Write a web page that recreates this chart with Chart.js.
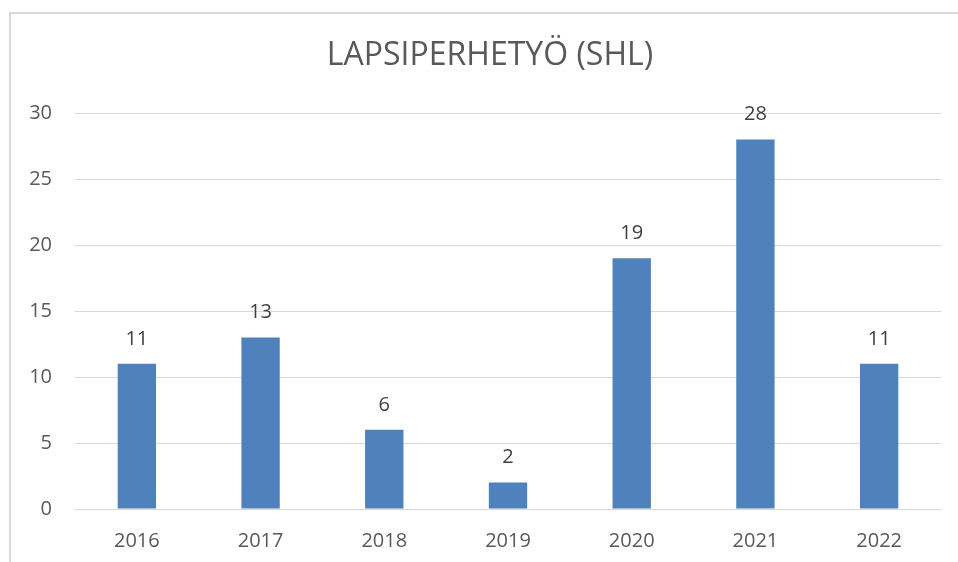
<!DOCTYPE html>
<html>
<head>
<meta charset="utf-8">
<script src="https://cdn.jsdelivr.net/npm/chart.js@4/dist/chart.umd.min.js"></script>
<style>
  html, body { margin: 0; padding: 0; background: #fff; overflow: hidden; }
  #frame { position: absolute; left: 9px; top: 12px; width: 1000px; height: 600px; border: 2px solid #d9d9d9; box-sizing: border-box; }
  #c { position: absolute; left: 0; top: 0; }
</style>
</head>
<body>
<div id="frame"></div>
<canvas id="c" width="958" height="562"></canvas>
<script>
const title = "LAPSIPERHETYÖ (SHL)";
const categories = ["2016", "2017", "2018", "2019", "2020", "2021", "2022"];
const values = [11, 13, 6, 2, 19, 28, 11];
const yTicks = [0, 5, 10, 15, 20, 25, 30];

const FONT = "'Open Sans', sans-serif";

const overlay = {
  id: 'overlay',
  afterDatasetsDraw(chart) {
    const ctx = chart.ctx;
    ctx.save();
    ctx.fillStyle = '#404040';
    ctx.font = "20px " + FONT;
    ctx.textAlign = 'center';
    ctx.textBaseline = 'middle';
    const meta = chart.getDatasetMeta(0);
    meta.data.forEach((el, i) => {
      ctx.fillText(String(values[i]), el.x, el.y - 25);
    });
    ctx.fillStyle = '#595959';
    ctx.font = "32px " + FONT;
    ctx.textBaseline = 'alphabetic';
    ctx.fillText(title, 490, 65);
    ctx.restore();
  }
};

new Chart(document.getElementById('c'), {
  type: 'bar',
  data: {
    labels: categories,
    datasets: [{
      data: values,
      backgroundColor: '#4f81bd',
      borderWidth: 0,
      categoryPercentage: 1,
      barPercentage: 0.31
    }]
  },
  options: {
    responsive: false,
    animation: false,
    layout: { padding: { left: 0, right: 17, top: 113, bottom: 0 } },
    plugins: { legend: { display: false }, tooltip: { enabled: false }, title: { display: false } },
    scales: {
      x: {
        grid: { display: false, drawTicks: false },
        border: { display: false },
        ticks: { color: '#595959', font: { family: FONT, size: 20 }, padding: 20 },
        afterFit(s) { s.height = 53; }
      },
      y: {
        min: 0, max: 30,
        afterBuildTicks(s) { s.ticks = yTicks.map(v => ({ value: v })); },
        grid: { color: '#d9d9d9', lineWidth: 1, drawTicks: false },
        border: { display: false },
        ticks: { color: '#595959', font: { family: FONT, size: 20 }, padding: 23 },
        afterFit(s) { s.width = 75; }
      }
    }
  },
  plugins: [overlay]
});
</script>
</body>
</html>
